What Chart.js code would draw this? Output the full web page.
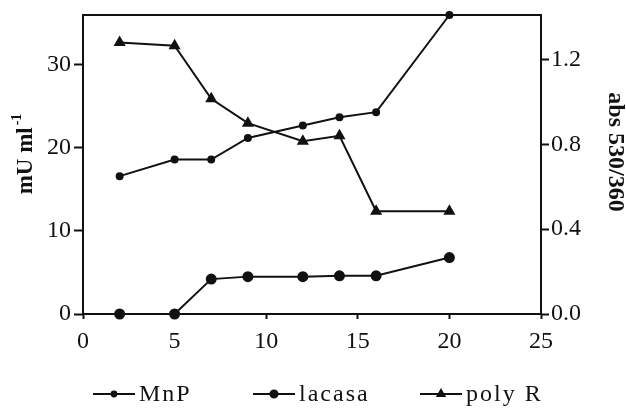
<!DOCTYPE html>
<html>
<head>
<meta charset="utf-8">
<script src="https://cdn.jsdelivr.net/npm/chart.js@4/dist/chart.umd.min.js"></script>
<style>
  html, body { margin: 0; padding: 0; background: #fff; }
  #wrap { width: 626px; height: 409px; position: relative; }
</style>
</head>
<body>
<div id="wrap"><canvas id="chart"></canvas></div>
<script>
// sampling days and measured activities
const days = [2, 5, 7, 9, 12, 14, 16, 20];
const mnp = [16.6, 18.6, 18.6, 21.2, 22.7, 23.7, 24.3, 36.0];
const lacasa = [0, 0, 4.2, 4.5, 4.5, 4.6, 4.6, 6.8];
const polyR = [1.28, 1.265, 1.015, 0.90, 0.815, 0.84, 0.485, 0.485];

// axis ticks
const xTicks = [0, 5, 10, 15, 20, 25];
const leftTicks = [0, 10, 20, 30];
const rightTicks = [0, 0.4, 0.8, 1.2];

const serif = '"Liberation Serif", "Times New Roman", serif';
const ink = '#111';

const toPoints = vals => vals.map((v, i) => ({ x: days[i], y: v }));

// frame around plot area (top edge isn't drawn by any axis)
const frame = {
  id: 'frame',
  afterDraw(chart) {
    const { ctx, chartArea: a } = chart;
    ctx.save();
    ctx.strokeStyle = ink;
    ctx.lineWidth = 2;
    ctx.strokeRect(a.left, a.top, a.right - a.left, a.bottom - a.top);
    ctx.restore();
  }
};

// rotated axis titles, left one with a superscript exponent
const axisTitles = {
  id: 'axisTitles',
  afterDraw(chart) {
    const { ctx } = chart;
    ctx.save();
    ctx.fillStyle = ink;
    ctx.textBaseline = 'middle';

    // left: mU ml-1, reading bottom to top
    ctx.save();
    ctx.translate(26, 154);
    ctx.rotate(-Math.PI / 2);
    const main = 'mU ml', sup = '-1';
    ctx.font = 'bold 23px ' + serif;
    const wMain = ctx.measureText(main).width;
    ctx.font = 'bold 14px ' + serif;
    const wSup = ctx.measureText(sup).width;
    const x0 = -(wMain + wSup + 2) / 2;
    ctx.textAlign = 'left';
    ctx.font = 'bold 23px ' + serif;
    ctx.fillText(main, x0, 0);
    ctx.font = 'bold 14px ' + serif;
    ctx.fillText(sup, x0 + wMain + 2, -9);
    ctx.restore();

    // right: abs 530/360, reading top to bottom
    ctx.save();
    ctx.translate(615, 152);
    ctx.rotate(Math.PI / 2);
    ctx.font = 'bold 24px ' + serif;
    ctx.textAlign = 'center';
    ctx.fillText('abs 530/360', 0, 0);
    ctx.restore();

    ctx.restore();
  }
};

// legend row under the x axis: short line with marker, then label
const lineLegend = {
  id: 'lineLegend',
  afterDraw(chart) {
    const { ctx } = chart;
    const cols = [93, 253, 420];
    const y = 394;
    ctx.save();
    ctx.font = '24px ' + serif;
    ctx.letterSpacing = '2px';
    ctx.textBaseline = 'middle';
    chart.data.datasets.forEach((ds, i) => {
      const x0 = cols[i];
      ctx.strokeStyle = ink;
      ctx.fillStyle = ink;
      ctx.lineWidth = 2;
      ctx.beginPath();
      ctx.moveTo(x0, y);
      ctx.lineTo(x0 + 42, y);
      ctx.stroke();
      Chart.helpers.drawPoint(ctx, {
        pointStyle: ds.pointStyle,
        radius: ds.pointRadius * 0.8,
        rotation: 0,
        borderWidth: 1
      }, x0 + 21, y);
      ctx.fillStyle = ink;
      ctx.fillText(ds.label, x0 + 46, y + 1);
    });
    ctx.restore();
  }
};

const tickFont = { family: serif, size: 24 };

// fixed axis width, and no extra room reserved for half a tick label at the top
const fitVertical = width => s => {
  s.width = width;
  s.paddingTop = 0;
};

new Chart(document.getElementById('chart'), {
  type: 'line',
  data: {
    datasets: [
      {
        label: 'MnP', data: toPoints(mnp), yAxisID: 'y',
        pointStyle: 'circle', pointRadius: 3
      },
      {
        label: 'lacasa', data: toPoints(lacasa), yAxisID: 'y',
        pointStyle: 'circle', pointRadius: 4.5
      },
      {
        label: 'poly R', data: toPoints(polyR), yAxisID: 'y1',
        pointStyle: 'triangle', pointRadius: 5
      }
    ].map(ds => Object.assign({
      borderColor: ink, backgroundColor: ink,
      pointBackgroundColor: ink, pointBorderColor: ink,
      borderWidth: 2, tension: 0, fill: false, clip: false
    }, ds))
  },
  options: {
    responsive: true,
    maintainAspectRatio: false,
    animation: false,
    layout: { padding: { top: 15, bottom: 55, left: 0, right: 0 } },
    plugins: { legend: { display: false }, tooltip: { enabled: false } },
    scales: {
      x: {
        type: 'linear', min: 0, max: 25,
        afterBuildTicks: s => { s.ticks = xTicks.map(v => ({ value: v })); },
        afterFit: s => { s.height = 40; },
        ticks: { font: tickFont, color: ink, padding: 8, maxRotation: 0 },
        grid: { drawOnChartArea: false, tickLength: 5, tickWidth: 2, color: ink },
        border: { display: false }
      },
      y: {
        position: 'left', min: 0, max: 36,
        afterBuildTicks: s => { s.ticks = leftTicks.map(v => ({ value: v })); },
        afterFit: fitVertical(83),
        ticks: { font: tickFont, color: ink, padding: 3 },
        grid: { drawOnChartArea: false, tickLength: 9, tickWidth: 2, color: ink },
        border: { display: false }
      },
      y1: {
        position: 'right', min: 0, max: 1.41,
        afterBuildTicks: s => { s.ticks = rightTicks.map(v => ({ value: v })); },
        afterFit: fitVertical(85),
        ticks: { font: tickFont, color: ink, padding: 2, callback: v => v.toFixed(1) },
        grid: { drawOnChartArea: false, tickLength: 8, tickWidth: 2, color: ink },
        border: { display: false }
      }
    }
  },
  plugins: [frame, axisTitles, lineLegend]
});
</script>
</body>
</html>
